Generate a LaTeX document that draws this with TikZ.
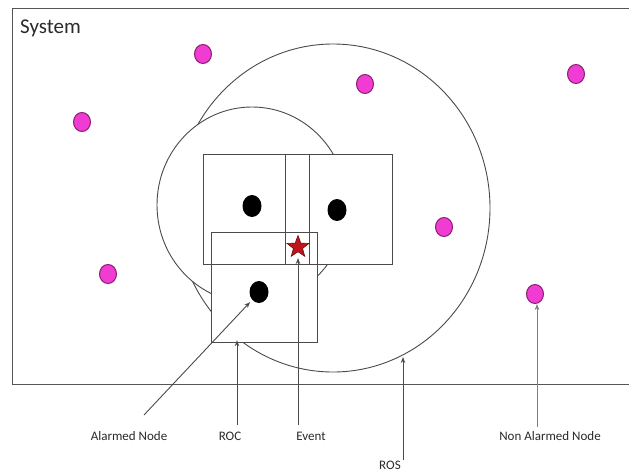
\documentclass[tikz,border=0pt]{standalone}
\usepackage{fontspec}
\setmainfont{Carlito}
\usetikzlibrary{shapes.geometric,arrows.meta}
\definecolor{pinkdot}{HTML}{F03CD2}
\definecolor{pinkedge}{HTML}{8A1F6E}
\definecolor{starred}{HTML}{C0141C}
\definecolor{stardark}{HTML}{6A0A0E}
\definecolor{linegray}{HTML}{4A4A4A}
\definecolor{framegray}{HTML}{555555}
\definecolor{textgray}{HTML}{2A2A2A}
\begin{document}
\begin{tikzpicture}[x=1pt,y=-1pt,
  region/.style={ellipse, draw=linegray, fill=white, line width=0.9pt, inner sep=0},
  cell/.style={rectangle, fill=white, inner sep=0, minimum height=109pt},
  cellline/.style={draw=linegray, line width=1pt},
  alarm/.style={ellipse, fill=black, minimum width=19pt, minimum height=22pt, inner sep=0},
  quiet/.style={ellipse, fill=pinkdot, draw=pinkedge, line width=1pt, minimum width=17pt, minimum height=19pt, inner sep=0},
  pointer/.style={draw=linegray, line width=0.9pt, -{Stealth[length=6pt,width=4.5pt]}},
  lbl/.style={font=\fontsize{13}{15}\selectfont, text=textgray, inner sep=0}]
\useasboundingbox (0,0) rectangle (629,474);
\fill[white] (0,0) rectangle (629,474);
\begin{scope}
  \clip (0,0) rectangle (629,474);
  \node (system) [draw=framegray, line width=1.3pt, rectangle, inner sep=0,
        minimum width=640pt, minimum height=376pt, anchor=north west] at (12,8) {};
\end{scope}
\node (systemlabel) [anchor=west, inner sep=0, font=\fontsize{21}{24}\selectfont, text=textgray] at (20,28) {System};

% regions
\node (ros) [region, minimum width=314pt, minimum height=328pt] at (333,208) {};
\node (roc) [region, minimum width=190pt, minimum height=196pt] at (252,205) {};

% cells
\node (ctl) [cell, minimum width=105pt] at (256.5,209.5) {};
\node (ctr) [cell, minimum width=106pt] at (339,209.5) {};
\node (cbt) [cell, minimum width=105pt] at (264.5,287.5) {};
\draw[cellline] (ctl.south west) rectangle (ctl.north east);
\draw[cellline] (ctr.south west) rectangle (ctr.north east);
\draw[cellline] (cbt.south west) rectangle (cbt.north east);

% alarmed nodes
\node (a1) [alarm] at (252,206) {};
\node (a2) [alarm] at (337,210) {};
\node (a3) [alarm] at (259,292) {};

% non alarmed nodes
\node (n1) [quiet] at (203,54) {};
\node (n2) [quiet] at (365,84) {};
\node (n3) [quiet] at (576,74) {};
\node (n4) [quiet] at (82,122) {};
\node (n5) [quiet] at (444,227) {};
\node (n6) [quiet] at (108,274) {};
\node (n7) [quiet] at (535,294) {};

% event
\node (event) [star, star points=5, star point ratio=2.4, minimum size=23pt, inner sep=0,
      fill=starred, draw=stardark, line width=0.6pt] at (298,247) {};

% labels
\node (lalarm) [lbl] at (129,436) {Alarmed Node};
\node (lroc) [lbl] at (230,436) {ROC};
\node (levent) [lbl] at (311,436) {Event};
\node (lros) [lbl] at (390,465) {ROS};
\node (lnon) [lbl] at (550,436) {Non Alarmed Node};

% pointer starts and ends
\coordinate (sAlarm) at (144,415);
\coordinate (sRoc) at (237,425);
\coordinate (sEvent) at (298,425);
\coordinate (sRos) at (403,460);
\coordinate (rosHit) at (403,357);
\coordinate (sNon) at (537,427);

\draw[pointer, shorten >=3pt] (sAlarm) -- (a3.south west);
\draw[pointer, shorten >=-2pt] (sRoc) -- (sRoc |- cbt.south);
\draw[pointer, shorten >=11pt] (sEvent) -- (sEvent |- event.center);
\draw[pointer] (sRos) -- (rosHit);
\draw[pointer, draw=gray, line width=0.5pt] (sNon) -- (sNon |- n7.south);
\end{tikzpicture}
\end{document}
